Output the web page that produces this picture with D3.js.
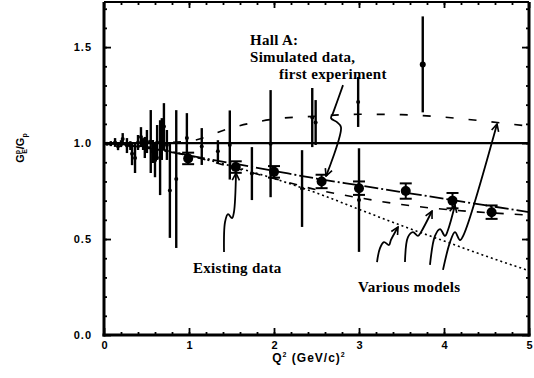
<!DOCTYPE html>
<html><head><meta charset="utf-8">
<script src="https://cdn.jsdelivr.net/npm/d3@7"></script>
<style>body{margin:0;background:#fff}svg{display:block}</style>
</head><body><svg id="c" width="534" height="378"></svg>
<script>
// ---------- data ----------
const existQ   = [0.035,0.08,0.13,0.165,0.2,0.22,0.27,0.31,0.33,0.365,0.40,0.435,0.46,0.48,0.505,0.55,0.575,0.60,0.625,0.66,0.68,0.705,0.74,0.775,0.85,0.975,1.15,1.34,1.48,1.74,1.96,2.33,2.45,2.49,2.99,3.0,3.75];
const existVal = [0.997,0.997,1.003,0.984,0.997,1.021,0.987,0.987,0.945,0.922,1.003,1.031,0.995,0.977,1.008,1.008,0.956,0.911,1.003,0.924,1.021,1.086,0.99,0.753,0.8125,1.026,0.982,0.958,0.99,0.841,0.997,0.763,1.133,1.107,1.214,0.703,1.41];
const existErr = [0.008,0.013,0.023,0.021,0.018,0.031,0.039,0.023,0.06,0.078,0.039,0.052,0.031,0.055,0.06,0.164,0.06,0.089,0.091,0.195,0.109,0.122,0.078,0.247,0.359,0.13,0.096,0.057,0.18,0.138,0.279,0.2,0.154,0.117,0.13,0.27,0.25];

const simQ   = [0.99,1.55,2.0,2.56,3.0,3.55,4.1,4.56];
const simVal = [0.92,0.875,0.85,0.80,0.765,0.75,0.70,0.64];
const simErr = [0.03,0.03,0.03,0.035,0.035,0.04,0.04,0.035];

const modelQ     = [0,0.5,1.0,1.5,2.0,2.5,3.0,3.5,4.0,4.5,5.0];
const modelUpper = [1.0,1.0,1.01,1.08,1.125,1.14,1.15,1.148,1.135,1.113,1.088];
const modelMid   = [1.0,0.975,0.935,0.895,0.855,0.815,0.78,0.745,0.71,0.675,0.64];
const modelLow   = [1.0,0.98,0.935,0.875,0.815,0.757,0.715,0.68,0.655,0.638,0.625];
const modelDot   = [1.0,0.98,0.935,0.88,0.815,0.74,0.655,0.57,0.49,0.41,0.335];

const xTickVals = [0,1,2,3,4,5];
const yTickVals = [0,0.5,1.0,1.5];
const yTickLabels = ["0.0","0.5","1.0","1.5"];

// annotation arrows, in data units (Q², ratio)
const arrowHallA = [[2.812,1.302],[2.694,1.156],[2.671,1.130],[2.741,1.109],[2.788,1.083],[2.612,0.828]];
const arrowExist = [[1.412,0.432],[1.424,0.589],[1.459,0.630],[1.506,0.609],[1.529,0.641],[1.553,0.844]];
const arrowsModels = [
  [[3.212,0.380],[3.247,0.453],[3.294,0.484],[3.353,0.469],[3.376,0.495],[3.459,0.5625]],
  [[3.541,0.380],[3.576,0.510],[3.635,0.536],[3.694,0.516],[3.729,0.536],[3.859,0.646]],
  [[3.835,0.365],[3.894,0.516],[3.953,0.552],[4.012,0.516],[4.047,0.547],[4.129,0.677]],
  [[3.988,0.339],[4.071,0.484],[4.129,0.536],[4.188,0.495],[4.235,0.526],[4.624,1.099]]
];

// ---------- drawing ----------
const svg = d3.select("#c");
const x = d3.scaleLinear().domain([0,5]).range([104,529]);
const y = d3.scaleLinear().domain([0,1.735]).range([335,2]);

const defs = svg.append("defs");
defs.append("clipPath").attr("id","clip").append("rect")
  .attr("x",x(0)).attr("y",y(1.735)).attr("width",x(5)-x(0)).attr("height",y(0)-y(1.735));
defs.append("marker").attr("id","ah").attr("viewBox","0 0 10 10")
  .attr("refX",9).attr("refY",5).attr("markerWidth",9).attr("markerHeight",9)
  .attr("markerUnits","userSpaceOnUse").attr("orient","auto")
  .append("path").attr("d","M1,1 L9,5 L1,9").attr("fill","none")
  .attr("stroke","#000").attr("stroke-width",1.8);

const plot = svg.append("g").attr("clip-path","url(#clip)");

// reference line at 1
plot.append("line").attr("x1",x(0)).attr("x2",x(5)).attr("y1",y(1)).attr("y2",y(1))
  .attr("stroke","#000").attr("stroke-width",2.2);

// model curves
const ln = d3.line().curve(d3.curveMonotoneX).x((d,i)=>x(modelQ[i])).y(d=>y(d));
const models = [
  {v:modelUpper, dash:"8,15", w:1.6},
  {v:modelMid,   dash:"14,3,2,3", w:1.8},
  {v:modelLow,   dash:"8,11", w:1.6},
  {v:modelDot,   dash:"2,3", w:1.6}
];
models.forEach(m=>{
  plot.append("path").attr("d",ln(m.v)).attr("fill","none").attr("stroke","#000")
    .attr("stroke-width",m.w).attr("stroke-dasharray",m.dash);
});

// existing data
const ex = plot.append("g");
existQ.forEach((q,i)=>{
  ex.append("line").attr("x1",x(q)).attr("x2",x(q))
    .attr("y1",y(existVal[i]-existErr[i])).attr("y2",y(existVal[i]+existErr[i]))
    .attr("stroke","#000").attr("stroke-width",2.4);
  ex.append("circle").attr("cx",x(q)).attr("cy",y(existVal[i]))
    .attr("r", q>3.5 ? 3 : 2).attr("fill","#000");
});

// simulated Hall A data
const sm = plot.append("g");
simQ.forEach((q,i)=>{
  const cx = x(q), y0 = y(simVal[i]-simErr[i]), y1 = y(simVal[i]+simErr[i]);
  sm.append("line").attr("x1",cx).attr("x2",cx).attr("y1",y0).attr("y2",y1)
    .attr("stroke","#000").attr("stroke-width",2);
  [y0,y1].forEach(yy=>sm.append("line").attr("x1",cx-6).attr("x2",cx+6)
    .attr("y1",yy).attr("y2",yy).attr("stroke","#000").attr("stroke-width",2));
  sm.append("circle").attr("cx",cx).attr("cy",y(simVal[i])).attr("r",5).attr("fill","#000");
});

// axes frame
const frame = svg.append("g");
frame.append("line").attr("x1",x(0)).attr("x2",x(0)).attr("y1",y(1.735)).attr("y2",y(0)+1.5).attr("stroke","#000").attr("stroke-width",3);
frame.append("line").attr("x1",x(0)-1.5).attr("x2",x(5)+1.5).attr("y1",y(0)).attr("y2",y(0)).attr("stroke","#000").attr("stroke-width",3);
frame.append("line").attr("x1",x(5)).attr("x2",x(5)).attr("y1",y(1.735)).attr("y2",y(0)+1.5).attr("stroke","#000").attr("stroke-width",3);
frame.append("line").attr("x1",x(0)).attr("x2",x(5)).attr("y1",y(1.735)).attr("y2",y(1.735)).attr("stroke","#000").attr("stroke-width",2);

function styleAxis(g){
  g.select(".domain").remove();
  g.selectAll(".tick line").attr("stroke","#000").attr("stroke-width",1.8);
  g.selectAll(".tick text").attr("font-family","Liberation Sans, Arial, sans-serif")
    .attr("font-weight","bold").attr("font-size",11).attr("fill","#000");
}
// left
svg.append("g").attr("transform",`translate(${x(0)},0)`)
  .call(d3.axisLeft(y).tickValues(yTickVals).tickSize(-7).tickPadding(12)
    .tickFormat((d,i)=>yTickLabels[i])).call(styleAxis)
  .selectAll(".tick text").attr("letter-spacing",1);
svg.append("g").attr("transform",`translate(${x(0)},0)`)
  .call(d3.axisLeft(y).tickValues(d3.range(0.1,1.735,0.1)).tickSize(-3).tickFormat("")).call(styleAxis);
// right
svg.append("g").attr("transform",`translate(${x(5)},0)`)
  .call(d3.axisRight(y).tickValues(yTickVals).tickSize(-7).tickFormat("")).call(styleAxis);
svg.append("g").attr("transform",`translate(${x(5)},0)`)
  .call(d3.axisRight(y).tickValues(d3.range(0.1,1.735,0.1)).tickSize(-3).tickFormat("")).call(styleAxis);
// bottom
svg.append("g").attr("transform",`translate(0,${y(0)})`)
  .call(d3.axisBottom(x).tickValues(xTickVals).tickSize(-7).tickPadding(6)
    .tickFormat(d3.format("d"))).call(styleAxis);
svg.append("g").attr("transform",`translate(0,${y(0)})`)
  .call(d3.axisBottom(x).tickValues(d3.range(0.2,5,0.2)).tickSize(-3).tickFormat("")).call(styleAxis);
// top
svg.append("g").attr("transform",`translate(0,${y(1.735)})`)
  .call(d3.axisTop(x).tickValues(xTickVals).tickSize(-6).tickFormat("")).call(styleAxis);
svg.append("g").attr("transform",`translate(0,${y(1.735)})`)
  .call(d3.axisTop(x).tickValues(d3.range(0.2,5,0.2)).tickSize(-3).tickFormat("")).call(styleAxis);

// axis titles
const xt = svg.append("text").attr("x",309).attr("y",362).attr("text-anchor","middle")
  .attr("font-family","Liberation Sans, Arial, sans-serif").attr("font-weight","bold")
  .attr("font-size",12).attr("letter-spacing",1);
xt.append("tspan").text("Q");
xt.append("tspan").attr("dy",-5).attr("font-size",7).text("2");
xt.append("tspan").attr("dy",5).text(" (GeV/c)");
xt.append("tspan").attr("dy",-5).attr("font-size",7).text("2");

const yt = svg.append("text").attr("transform","translate(24,148) rotate(-90)").attr("text-anchor","middle")
  .attr("font-family","Liberation Sans, Arial, sans-serif").attr("font-weight","bold").attr("font-size",11);
yt.append("tspan").text("G");
yt.append("tspan").attr("dy",-4).attr("font-size",7).text("p");
yt.append("tspan").attr("dx",-4).attr("dy",7).attr("font-size",7).text("E");
yt.append("tspan").attr("dy",-3).text("/G");
yt.append("tspan").attr("dy",3).attr("font-size",7).text("p");

// annotations
const al = d3.line().curve(d3.curveCatmullRom).x(d=>x(d[0])).y(d=>y(d[1]));
[arrowHallA, arrowExist, ...arrowsModels].forEach(a=>{
  svg.append("path").attr("d",al(a)).attr("fill","none").attr("stroke","#000")
    .attr("stroke-width",1.8).attr("marker-end","url(#ah)");
});

const lab = (t,xx,yy)=>svg.append("text").attr("x",xx).attr("y",yy).text(t)
  .attr("font-family","Liberation Serif, Times New Roman, serif").attr("font-weight","bold")
  .attr("font-size",15).attr("letter-spacing",0.3).attr("fill","#000");
lab("Hall A:", 250, 45);
lab("Simulated data,", 250, 62);
lab("first experiment", 279, 79);
lab("Existing data", 193, 273);
lab("Various models", 358, 292);
</script></body></html>
